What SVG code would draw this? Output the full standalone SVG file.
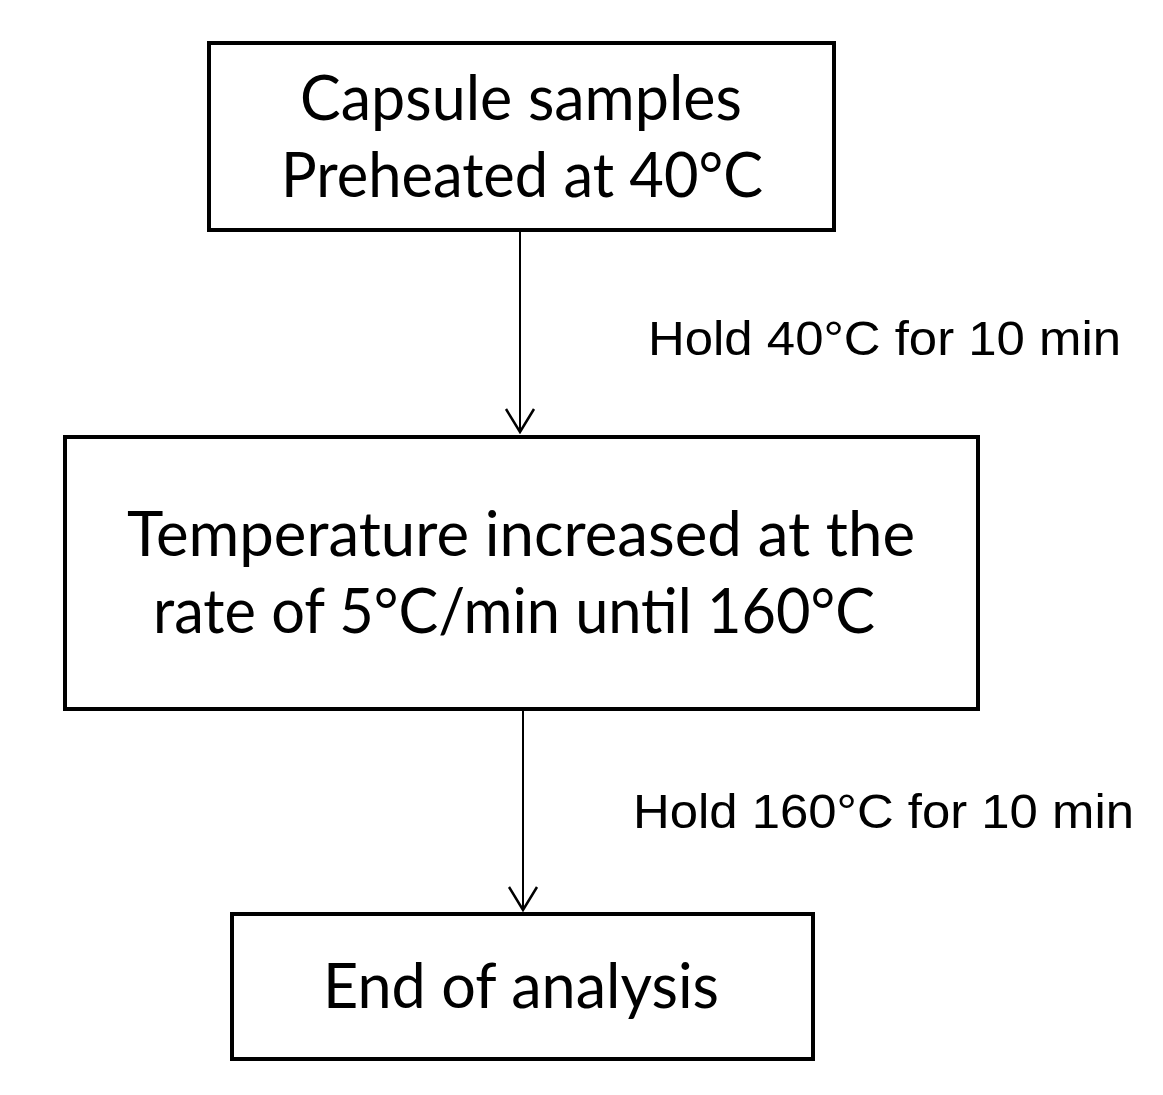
<svg xmlns="http://www.w3.org/2000/svg" width="1163" height="1095" viewBox="0 0 1163 1095">
  <style>
    .box { fill: #ffffff; stroke: #000000; stroke-width: 4; }
    .btxt { font-family: Lato, "Open Sans", "Liberation Sans", sans-serif; font-size: 62px; fill: #000000; text-anchor: middle; }
    .ltxt { font-family: "Liberation Sans", Arial, sans-serif; font-size: 49px; fill: #000000; }
    .conn { stroke: #000000; stroke-width: 2; fill: none; }
  </style>
  <defs>
    <marker id="arrow" markerUnits="userSpaceOnUse" viewBox="-26 -16 28 32" markerWidth="28" markerHeight="32" refX="0" refY="0" orient="auto">
      <path d="M-23,-14 L0,0 L-23,14" fill="none" stroke="#000000" stroke-width="2.5"/>
    </marker>
  </defs>
  <rect x="0" y="0" width="1163" height="1095" fill="#ffffff"/>
  <g id="connectors">
    <line class="conn" x1="520" y1="232" x2="520" y2="432" marker-end="url(#arrow)"/>
    <line class="conn" x1="523" y1="711" x2="523" y2="910" marker-end="url(#arrow)"/>
    <text class="ltxt" x="648" y="355" textLength="473" lengthAdjust="spacingAndGlyphs">Hold 40°C for 10 min</text>
    <text class="ltxt" x="633" y="828" textLength="501" lengthAdjust="spacingAndGlyphs">Hold 160°C for 10 min</text>
  </g>
  <g id="node-preheat">
    <rect class="box" x="209" y="43" width="625" height="187"/>
    <text class="btxt" x="521" y="120" textLength="442" lengthAdjust="spacingAndGlyphs">Capsule samples</text>
    <text class="btxt" x="522" y="197" textLength="482" lengthAdjust="spacingAndGlyphs">Preheated at 40°C</text>
  </g>
  <g id="node-ramp">
    <rect class="box" x="65" y="437" width="913" height="272"/>
    <text class="btxt" x="521" y="556" textLength="788" lengthAdjust="spacingAndGlyphs">Temperature increased at the</text>
    <text class="btxt" x="514" y="633" textLength="722" lengthAdjust="spacingAndGlyphs">rate of 5°C/min until 160°C</text>
  </g>
  <g id="node-end">
    <rect class="box" x="232" y="914" width="581" height="145"/>
    <text class="btxt" x="521" y="1008" textLength="396" lengthAdjust="spacingAndGlyphs">End of analysis</text>
  </g>
</svg>
